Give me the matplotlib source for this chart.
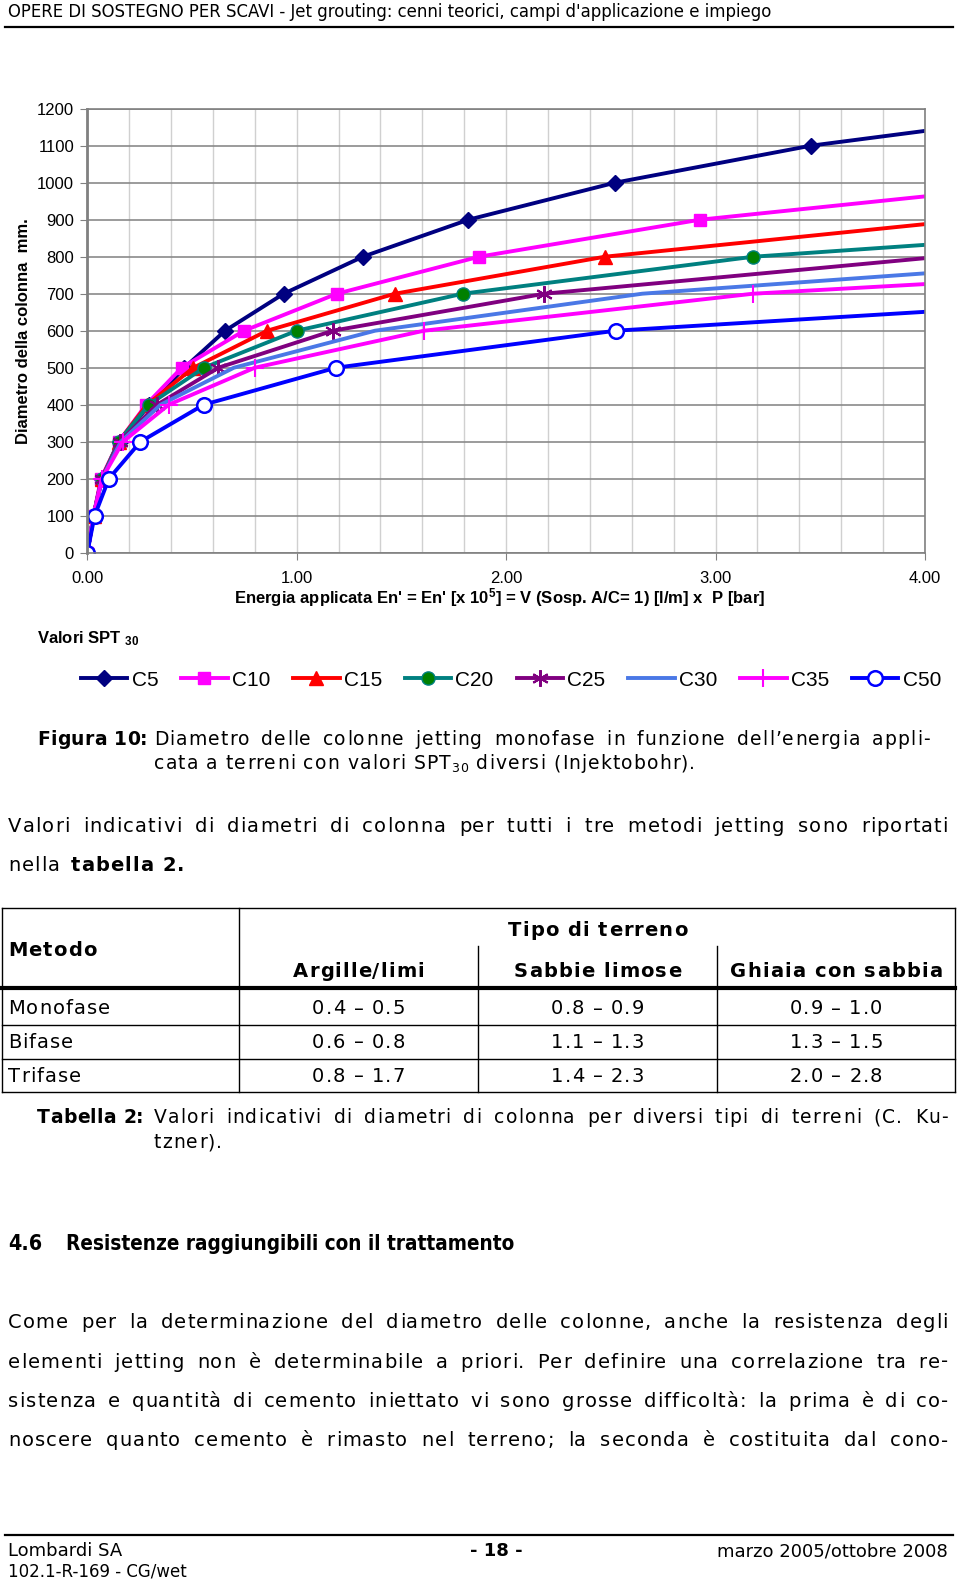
import matplotlib
matplotlib.use('Agg')
import matplotlib.pyplot as plt
from matplotlib import font_manager
from matplotlib.font_manager import FontProperties
from matplotlib.ft2font import FT2Font
from matplotlib.ticker import MultipleLocator

plt.rcParams['font.family'] = ['Liberation Sans', 'DejaVu Sans']
plt.rcParams['mathtext.default'] = 'regular'

# --- chart data: energia applicata (x) vs diametro colonna mm (y) ---
serie = ['C5', 'C10', 'C15', 'C20', 'C25', 'C30', 'C35', 'C50']
en_c5 = [0, 0.03, 0.068, 0.155, 0.296, 0.464, 0.658, 0.938, 1.316, 1.82, 2.52, 3.455, 4.0]
d_c5 = [0, 100, 200, 300, 400, 500, 600, 700, 800, 900, 1000, 1100, 1140]
en_c10 = [0, 0.03, 0.065, 0.15, 0.281, 0.451, 0.749, 1.192, 1.871, 2.926, 4.0]
d_c10 = [0, 100, 200, 300, 400, 500, 600, 700, 800, 900, 963]
en_c15 = [0, 0.03, 0.068, 0.15, 0.285, 0.507, 0.859, 1.469, 2.472, 4.0]
d_c15 = [0, 100, 200, 300, 400, 500, 600, 700, 800, 888]
en_c20 = [0, 0.03, 0.07, 0.149, 0.294, 0.557, 1.0, 1.793, 3.181, 4.0]
d_c20 = [0, 100, 200, 300, 400, 500, 600, 700, 800, 832]
en_c25 = [0, 0.03, 0.07, 0.155, 0.333, 0.626, 1.173, 2.183, 4.0]
d_c25 = [0, 100, 200, 300, 400, 500, 600, 700, 796]
en_c30 = [0, 0.03, 0.07, 0.16, 0.35, 0.70, 1.374, 2.65, 4.0]
d_c30 = [0, 100, 200, 300, 400, 500, 600, 700, 755]
en_c35 = [0, 0.03, 0.07, 0.17, 0.389, 0.80, 1.608, 3.18, 4.0]
d_c35 = [0, 100, 200, 300, 400, 500, 600, 700, 726]
en_c50 = [0, 0.035, 0.103, 0.254, 0.556, 1.188, 2.523, 4.0]
d_c50 = [0, 100, 200, 300, 400, 500, 600, 651]

x_ticks = [0, 1, 2, 3, 4]
y_ticks = list(range(0, 1300, 100))

# --- table data ---
metodi = ['Monofase', 'Bifase', 'Trifase']
terreni = ['Argille/limi', 'Sabbie limose', 'Ghiaia con sabbia']
diametri = [['0.4 – 0.5', '0.8 – 0.9', '0.9 – 1.0'],
            ['0.6 – 0.8', '1.1 – 1.3', '1.3 – 1.5'],
            ['0.8 – 1.7', '1.4 – 2.3', '2.0 – 2.8']]

W, H = 960, 1581
fig = plt.figure(figsize=(W / 100, H / 100), dpi=100)
page = fig.add_axes([0, 0, 1, 1])
page.set_xlim(0, W)
page.set_ylim(H, 0)
page.axis('off')
rend = fig.canvas.get_renderer()

_ft = {}


def avanzamento(c, size, bold):
    """ advance of one DejaVu Sans glyph, in pixels """
    if bold not in _ft:
        p = font_manager.findfont(FontProperties(family='DejaVu Sans',
                                                 weight='bold' if bold else 'normal'))
        _ft[bold] = FT2Font(p)
    f = _ft[bold]
    f.set_size(size, 100)
    return f.load_char(ord(c)).linearHoriAdvance / 65536


def scritta(x, y, pezzi, ls=1.1, x1=None, ha='left'):
    """ letter-spaced text, pezzi = [(text, size, bold, dy)], justified if x1 given """
    chars = []
    for s, size, bold, dy in pezzi:
        for c in s:
            chars.append((c, size, bold, dy, avanzamento(c, size, bold)))
    natural = sum(ch[4] for ch in chars) + ls * (len(chars) - 1)
    extra = 0
    if x1 is not None:
        extra = (x1 - x - natural) / max(1, sum(1 for ch in chars if ch[0] == ' '))
    if ha == 'center':
        x -= natural / 2
    elif ha == 'right':
        x -= natural
    for c, size, bold, dy, a in chars:
        if c != ' ':
            page.text(x, y + dy, c, fontsize=size, family='DejaVu Sans',
                      fontweight='bold' if bold else 'normal', va='baseline')
        x += a + ls + (extra if c == ' ' else 0)


def riga(x, y, s, size=13.5, bold=False, x1=None, ls=1.1, ha='left'):
    scritta(x, y, [(s, size, bold, 0)], ls=ls, x1=x1, ha=ha)


def adattata(x, y, s, larghezza, size, bold=False):
    """ condensed text scaled down to the width it has on the page """
    t = page.text(x, y, s, fontsize=size, family='DejaVu Sans', fontstretch='condensed',
                  fontweight='bold' if bold else 'normal', va='baseline')
    w = t.get_window_extent(rend).width
    if w > larghezza:
        t.set_fontsize(size * larghezza / w)
    return t


# header
adattata(8, 17, "OPERE DI SOSTEGNO PER SCAVI - Jet grouting: cenni teorici, campi d'applicazione e impiego",
         772, 14)
page.plot([5, 953], [27, 27], color='black', lw=1.6)

# chart
ax = fig.add_axes([87.3 / W, 1 - 552.7 / H, (925 - 87.3) / W, 444 / H])
stili = [
    (en_c5, d_c5, '#000080', 'D', 8, '#000080', 1),
    (en_c10, d_c10, '#ff00ff', 's', 8.5, '#ff00ff', 1),
    (en_c15, d_c15, '#ff0000', '^', 9.5, '#ff0000', 1),
    (en_c20, d_c20, '#008080', 'o', 9.5, '#008000', 1),
    (en_c25, d_c25, '#800080', (6, 2, 0), 12, '#800080', 1.5),
    (en_c30, d_c30, '#4a78e6', None, 0, None, 1),
    (en_c35, d_c35, '#ff00ff', '+', 13, '#ff00ff', 1.5),
    (en_c50, d_c50, '#0000ff', 'o', 10.5, 'white', 1.8),
]
for nome, (en, d, col, mk, ms, fc, mew) in zip(serie, stili):
    ax.plot(en, d, color=col, lw=2.8, marker=mk, ms=ms, mfc=fc, mec=col, mew=mew,
            markevery=slice(0, len(en) - 1), label=nome, solid_joinstyle='round')

ax.set_xlim(0, 4)
ax.set_ylim(0, 1200)
ax.set_xticks(x_ticks)
ax.set_xticklabels([f'{v:.2f}' for v in x_ticks])
ax.xaxis.set_minor_locator(MultipleLocator(0.2))
ax.set_yticks(y_ticks)
ax.set_axisbelow(True)
ax.grid(axis='x', which='both', color='#d0d0d0', lw=1)
ax.grid(axis='y', which='major', color='#8a8a8a', lw=1.2)
ax.tick_params(which='minor', length=0)
ax.tick_params(axis='y', which='major', direction='out', length=5, color='#808080',
               labelsize=12, pad=4.5)
ax.tick_params(axis='x', which='major', direction='out', length=5, color='#808080',
               labelsize=12, pad=8.5)
for sp in ax.spines.values():
    sp.set_color('#808080')
    sp.set_linewidth(1.2)
ax.spines['left'].set_linewidth(2)

page.text(24, 331, 'Diametro della colonna  mm.', rotation=90, ha='center', va='center',
          fontsize=12, fontweight='bold')
page.text(500, 598, "Energia applicata En' = En' [x 10$^5$] = V (Sosp. A/C= 1) [l/m] x  P [bar]",
          ha='center', va='center', fontsize=12, fontweight='bold')
page.text(37, 643, 'Valori SPT $_{30}$', fontsize=12, fontweight='bold', va='baseline')

h, l = ax.get_legend_handles_labels()
fig.legend(h, l, loc='center left', bbox_to_anchor=(81 / W, 1 - 680 / H), ncol=8,
           frameon=False, fontsize=15, handlelength=2.23, handletextpad=0.2,
           columnspacing=1.1, borderpad=0, borderaxespad=0)

# figure caption
riga(37, 745, 'Figura 10:', bold=True, ls=0.3)
riga(154, 745, 'Diametro delle colonne jetting monofase in funzione dell’energia appli-', x1=930)
scritta(154, 769, [('cata a terreni con valori SPT', 13.5, False, 0), ('30', 9, False, 3),
                   (' diversi (Injektobohr).', 13.5, False, 0)])

# body text
riga(8, 832.5, 'Valori indicativi di diametri di colonna per tutti i tre metodi jetting sono riportati',
     size=14, x1=948)
riga(8, 871, 'nella', size=14)
riga(70.6, 871, 'tabella 2.', size=14, bold=True)

# table
tl, tr, tt, tb = 2, 955, 907.6, 1092
cols = [239, 478, 717, 955]
righe = [988, 1024.5, 1059, 1092]
page.plot([tl, tr], [tt, tt], color='black', lw=1)
page.plot([tl, tl], [tt, tb], color='black', lw=1)
page.plot([tr, tr], [tt, tb], color='black', lw=1)
page.plot([cols[0], cols[0]], [tt, tb], color='black', lw=1)
for c in cols[1:3]:
    page.plot([c, c], [946, tb], color='black', lw=1)
page.plot([tl, tr], [righe[0], righe[0]], color='black', lw=3)
for r in righe[1:]:
    page.plot([tl, tr], [r, r], color='black', lw=1)
riga(8, 956, 'Metodo', size=14, bold=True)
riga((cols[1] + cols[2]) / 2, 936, 'Tipo di terreno', size=14, bold=True, ha='center')
centri = [(cols[i] + cols[i + 1]) / 2 for i in range(3)]
for cx, t in zip(centri, terreni):
    riga(cx, 977, t, size=14, bold=True, ha='center')
for yb, m, vals in zip([1014.5, 1048, 1082], metodi, diametri):
    riga(8, yb, m, size=14)
    for cx, v in zip(centri, vals):
        riga(cx, yb, v, size=14, ha='center')

riga(37, 1123, 'Tabella 2:', bold=True, ls=0.3)
riga(154, 1123, 'Valori indicativi di diametri di colonna per diversi tipi di terreni (C. Ku-', x1=948)
riga(154, 1148.5, 'tzner).')

# section 4.6
adattata(8, 1250, '4.6', 34, 16, bold=True)
adattata(66.5, 1250, 'Resistenze raggiungibili con il trattamento', 450, 16, bold=True)
paragrafo = [
    'Come per la determinazione del diametro delle colonne, anche la resistenza degli',
    'elementi jetting non è determinabile a priori. Per definire una correlazione tra re-',
    'sistenza e quantità di cemento iniettato vi sono grosse difficoltà: la prima è di co-',
    'noscere quanto cemento è rimasto nel terreno; la seconda è costituita dal cono-',
]
for yb, s in zip([1328.5, 1367.5, 1407, 1446.5], paragrafo):
    riga(8, yb, s, size=14, x1=948)

# footer
page.plot([5, 953], [1535, 1535], color='black', lw=1.6)
page.text(8, 1556, 'Lombardi SA', fontsize=13, family='DejaVu Sans', va='baseline')
page.text(496, 1556, '- 18 -', fontsize=13, family='DejaVu Sans', fontweight='bold',
          va='baseline', ha='center')
page.text(948, 1556, 'marzo 2005/ottobre 2008', fontsize=13, family='DejaVu Sans',
          va='baseline', ha='right')
page.text(8, 1577, '102.1-R-169 - CG/wet', fontsize=12, family='DejaVu Sans', va='baseline')

fig.savefig('out.png', dpi=100)
